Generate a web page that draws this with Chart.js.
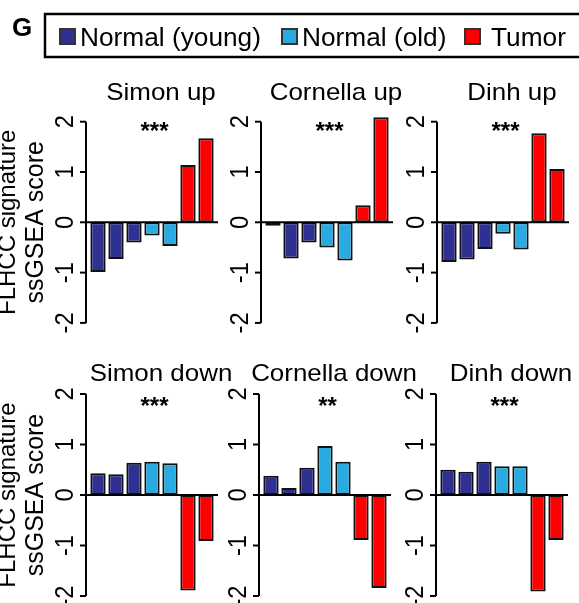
<!DOCTYPE html>
<html>
<head>
<meta charset="utf-8">
<script src="https://cdn.jsdelivr.net/npm/chart.js@4.4.1/dist/chart.umd.min.js"></script>
<style>
  html, body { margin: 0; padding: 0; background: #fff; }
  #wrap { position: relative; width: 579px; height: 603px; overflow: hidden; }
  #wrap canvas { position: absolute; left: 0; top: 0; }
</style>
</head>
<body>
<div id="wrap"></div>
<script>
// groups (one per bar) and legend
const groupNames = ["Normal (young)", "Normal (old)", "Tumor"];
const groupColors = ["#2E3192", "#29ABE2", "#FF0000"];
const barGroups = [0, 0, 0, 1, 1, 2, 2];
const sampleLabels = ["Y1", "Y2", "Y3", "O1", "O2", "T1", "T2"];

// ssGSEA scores per signature
const simonUp = [-0.99, -0.73, -0.40, -0.26, -0.47, 1.14, 1.67];
const cornellaUp = [-0.07, -0.72, -0.40, -0.50, -0.76, 0.34, 2.09];
const dinhUp = [-0.79, -0.74, -0.53, -0.23, -0.54, 1.77, 1.06];
const simonDown = [0.43, 0.41, 0.64, 0.66, 0.63, -1.89, -0.91];
const cornellaDown = [0.38, 0.14, 0.54, 0.97, 0.66, -0.89, -1.84];
const dinhDown = [0.50, 0.46, 0.66, 0.57, 0.57, -1.91, -0.89];

const panelTitles = ["Simon up", "Cornella up", "Dinh up", "Simon down", "Cornella down", "Dinh down"];
const panelStars = ["***", "***", "***", "***", "**", "***"];
const yTicks = [2, 1, 0, -1, -2];
const yTitle = ["FLHCC signature", "ssGSEA score"];

const panelValues = [simonUp, cornellaUp, dinhUp, simonDown, cornellaDown, dinhDown];

// layout
const W = 579, H = 603;
const FONT = '"Liberation Sans", Arial, Helvetica, sans-serif';
const axisX = [86, 261, 437, 86, 259, 436];
const rowZero = [222.3, 495];
const rowUnit = [50.3, 50.5];
const yMin = -2.1, yMax = 2.2;

function hText(ctx, text, x, y, font, align, sx) {
  ctx.save();
  ctx.translate(x, y);
  ctx.scale(sx || 1, 1);
  ctx.font = font;
  ctx.textAlign = align;
  ctx.textBaseline = "alphabetic";
  ctx.fillText(text, 0, 0);
  ctx.restore();
}

function vText(ctx, text, x, y, font, sy) {
  ctx.save();
  ctx.translate(x, y);
  ctx.rotate(-Math.PI / 2);
  ctx.scale(sy || 1, 1);
  ctx.font = font;
  ctx.textAlign = "center";
  ctx.textBaseline = "alphabetic";
  ctx.fillText(text, 0, 0);
  ctx.restore();
}

const panelDecor = {
  id: "panelDecor",
  afterDatasetsDraw(chart, args, opts) {
    const ctx = chart.ctx;
    const y = chart.scales.y;
    const area = chart.chartArea;
    const ax = area.left - 3;
    const right = area.right + 3;
    ctx.save();
    ctx.fillStyle = "#000";
    ctx.strokeStyle = "#000";
    ctx.lineWidth = 2;
    ctx.lineCap = "butt";

    // zero line
    const y0 = y.getPixelForValue(0);
    ctx.beginPath();
    ctx.moveTo(ax, y0);
    ctx.lineTo(right, y0);
    ctx.stroke();

    // y axis
    ctx.beginPath();
    ctx.moveTo(ax, y.getPixelForValue(yTicks[0]));
    ctx.lineTo(ax, y.getPixelForValue(yTicks[yTicks.length - 1]));
    ctx.stroke();
    yTicks.forEach(t => {
      const py = y.getPixelForValue(t);
      ctx.beginPath();
      ctx.moveTo(ax - 6, py);
      ctx.lineTo(ax, py);
      ctx.stroke();
      vText(ctx, String(t), ax - 13, py, "25px " + FONT, 0.95);
    });

    const cx = (ax + right) / 2;
    // title
    hText(ctx, opts.title, cx + 9, opts.titleY, "24px " + FONT, "center", 1.08);
    // significance
    hText(ctx, opts.stars, cx + 2.5, opts.starY, "bold 24px " + FONT, "center", 1);

    // y axis title in first column
    if (opts.col === 0) {
      vText(ctx, yTitle[0], 15, y0, "24px " + FONT);
      vText(ctx, yTitle[1], 43, y0, "25px " + FONT);
    }

    // legend once
    if (opts.legend) {
      hText(ctx, "G", 12, 36, "bold 26px " + FONT, "left", 1);
      ctx.lineWidth = 2.5;
      ctx.strokeRect(45, 14, 560, 43);
      const sq = [59, 281, 464];
      const tx = [80, 302, 491];
      groupNames.forEach((name, i) => {
        ctx.fillStyle = groupColors[i];
        ctx.fillRect(sq[i], 28, 17, 17);
        ctx.strokeStyle = "#333";
        ctx.lineWidth = 2;
        ctx.strokeRect(sq[i] + 1, 29, 15, 15);
        ctx.fillStyle = "#000";
        hText(ctx, name, tx[i], 45.5, "26px " + FONT, "left", 1.01);
      });
    }
    ctx.restore();
  }
};

const wrap = document.getElementById("wrap");

panelValues.forEach((values, p) => {
  const row = Math.floor(p / 3);
  const col = p % 3;
  const zero = rowZero[row];
  const unit = rowUnit[row];
  const left = axisX[p] + 3;
  const right = axisX[p] + 129;
  const top = zero - yMax * unit;
  const bottom = zero - yMin * unit;

  const canvas = document.createElement("canvas");
  canvas.width = W;
  canvas.height = H;
  wrap.appendChild(canvas);

  new Chart(canvas.getContext("2d"), {
    type: "bar",
    data: {
      labels: sampleLabels,
      datasets: [{
        data: values,
        backgroundColor: barGroups.map(g => groupColors[g]),
        borderColor: "#111",
        borderWidth: 2,
        borderSkipped: false,
        barPercentage: 0.85,
        categoryPercentage: 1.0
      }]
    },
    options: {
      responsive: false,
      animation: false,
      devicePixelRatio: 1,
      layout: { padding: { left: left, right: W - right, top: top, bottom: H - bottom } },
      scales: {
        x: { display: false, offset: true },
        y: { display: false, min: yMin, max: yMax }
      },
      plugins: {
        legend: { display: false },
        tooltip: { enabled: false },
        panelDecor: {
          title: panelTitles[p],
          stars: panelStars[p],
          titleY: row === 0 ? 100 : 380.5,
          starY: row === 0 ? 139 : 414,
          col: col,
          legend: p === 0
        }
      }
    },
    plugins: [panelDecor]
  });
});
</script>
</body>
</html>
